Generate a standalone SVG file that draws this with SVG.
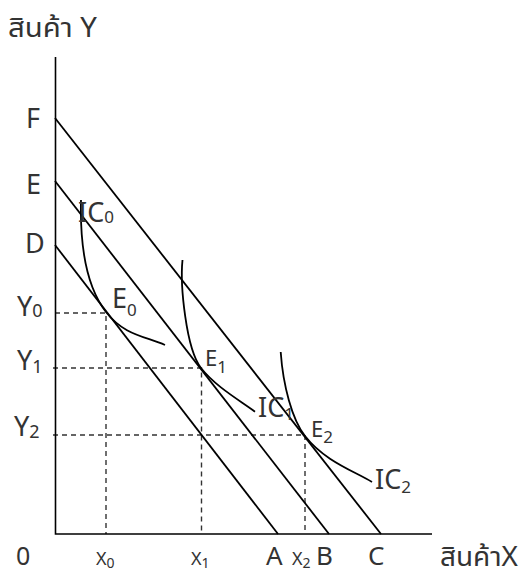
<svg xmlns="http://www.w3.org/2000/svg" width="528" height="575" viewBox="0 0 528 575">
<style>
text{font-family:"Noto Sans","Noto Sans Thai",Tahoma,"DejaVu Sans",sans-serif;fill:#333;}
.big{font-size:27px;}
.mid{font-size:22px;}
.sub{font-size:17px;}
.axis{stroke:#000;stroke-width:1.6;fill:none;}
.budget{stroke:#000;stroke-width:1.8;fill:none;}
.ic{stroke:#000;stroke-width:1.8;fill:none;}
.dash{stroke:#333;stroke-width:1.4;stroke-dasharray:5 4;fill:none;}
</style>
<rect width="528" height="575" fill="#fff"/>
<g id="connectors">
<path class="dash" d="M55,313H106V534"/>
<path class="dash" d="M53,368H201.5V534"/>
<path class="dash" d="M53,435H305V534"/>
<path class="budget" d="M55,118L381,534"/>
<path class="budget" d="M55,181L329,534"/>
<path class="budget" d="M55,245L278,534"/>
<path class="axis" d="M55.5,57V534H432"/>
</g>
<g id="IC0">
<path class="ic" d="M81,200C80,240 84,283.5 106,312C124,335.3 145,336.2 165,345"/>
<text class="big" x="78" y="222">IC<tspan class="sub" dy="1">0</tspan></text>
</g>
<g id="IC1">
<path class="ic" d="M182.5,260C180,285 186,348.7 201,368C216,387.3 243,402.3 255,411.7"/>
<text class="big" x="258" y="417">IC<tspan class="sub" dy="3">1</tspan></text>
</g>
<g id="IC2">
<path class="ic" d="M280.7,352C283,385 292,419.4 305,436C325,461.5 354,471 372,482"/>
<text class="big" x="375" y="489">IC<tspan class="sub" dy="4">2</tspan></text>
</g>
<g id="E0"><text class="big" x="112" y="308">E<tspan class="sub" dy="8">0</tspan></text></g>
<g id="E1"><text class="mid" x="205" y="366">E<tspan class="sub" dy="7">1</tspan></text></g>
<g id="E2"><text class="mid" x="311" y="436.5">E<tspan class="sub" dy="6.5">2</tspan></text></g>
<g id="labelY"><text style="font-size:27px" x="8" y="37" textLength="89" lengthAdjust="spacingAndGlyphs">สินค้า Y</text></g>
<g id="labelF"><text class="big" x="26" y="127.7">F</text></g>
<g id="labelE"><text class="big" x="26" y="194">E</text></g>
<g id="labelD"><text class="big" x="25" y="253">D</text></g>
<g id="labelY0"><text class="big" x="17" y="316">Y<tspan style="font-size:18px" dy="1">0</tspan></text></g>
<g id="labelY1"><text class="big" x="17" y="370">Y<tspan style="font-size:18px" dy="3">1</tspan></text></g>
<g id="labelY2"><text class="big" x="14" y="436">Y<tspan style="font-size:18px" dy="2">2</tspan></text></g>
<g id="label0"><text style="font-size:25px" x="16" y="565">0</text></g>
<g id="labelX0"><text style="font-size:18px" x="96" y="565">X<tspan style="font-size:14px" dy="3">0</tspan></text></g>
<g id="labelX1"><text style="font-size:18px" x="191" y="565">X<tspan style="font-size:14px" dy="3">1</tspan></text></g>
<g id="labelA"><text style="font-size:26px" x="266" y="565">A</text></g>
<g id="labelX2"><text style="font-size:18px" x="292" y="565">X<tspan style="font-size:14px" dy="3">2</tspan></text></g>
<g id="labelB"><text style="font-size:26px" x="316" y="565">B</text></g>
<g id="labelC"><text style="font-size:26px" x="368" y="565">C</text></g>
<g id="labelX"><text style="font-size:27px" x="440" y="566" textLength="78" lengthAdjust="spacingAndGlyphs">สินค้าX</text></g>
</svg>
